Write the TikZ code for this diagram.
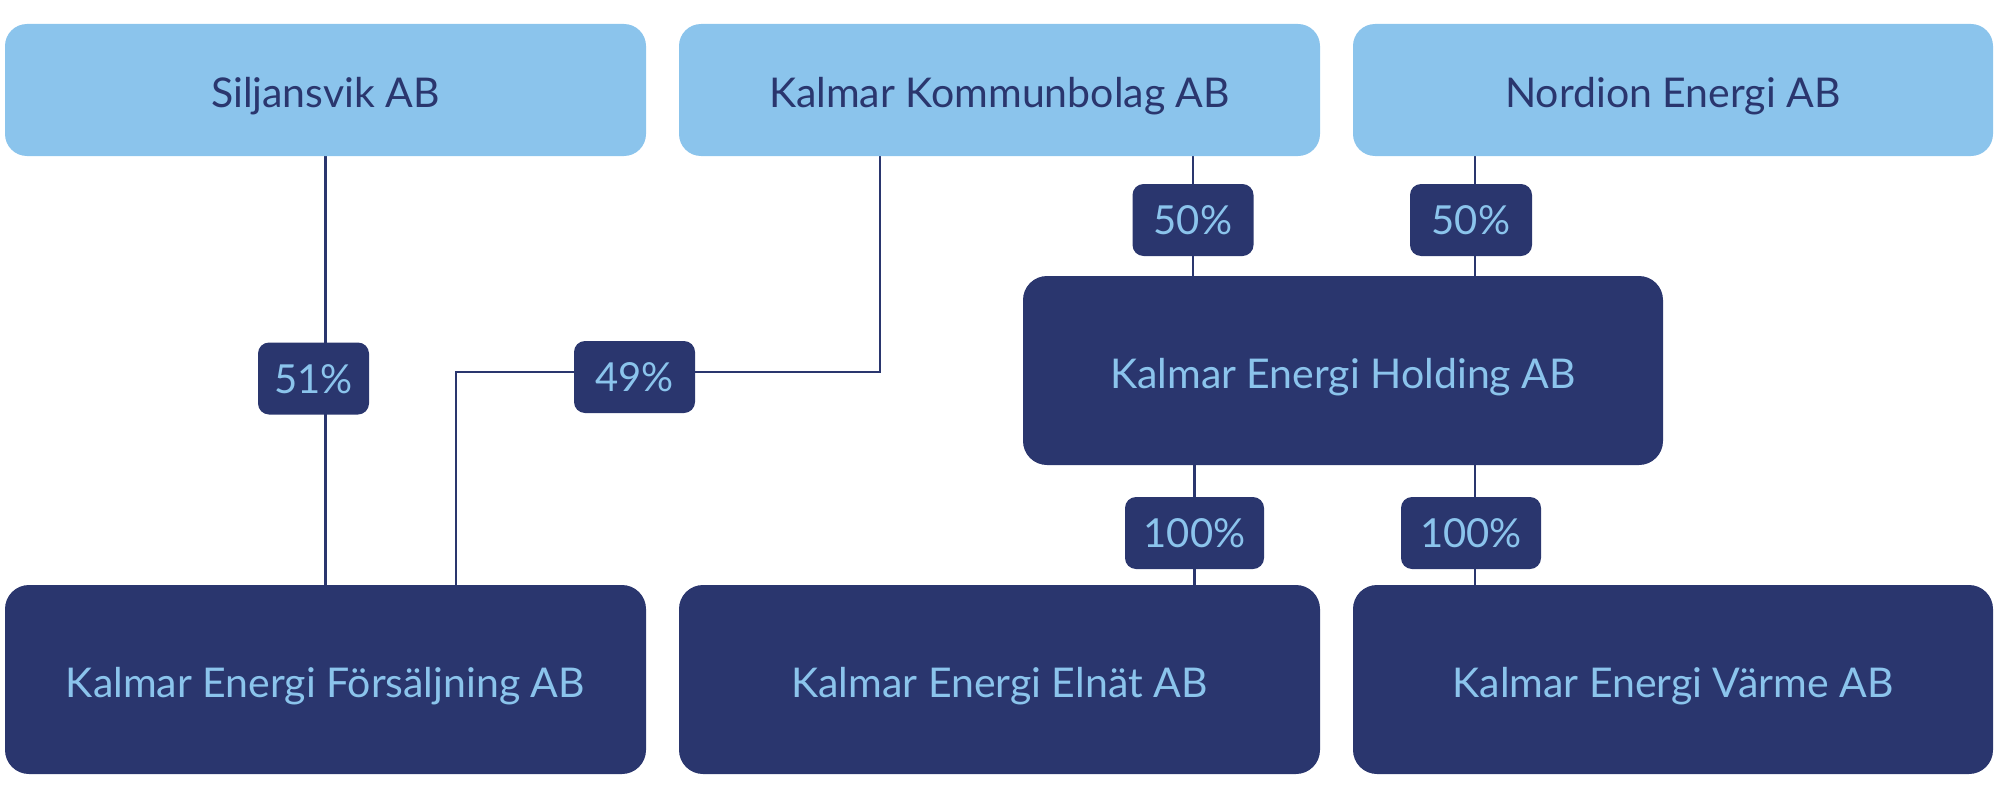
\documentclass[tikz,border=0pt]{standalone}
\usepackage{fontspec}
\setmainfont{Lato}
\usetikzlibrary{backgrounds}
\definecolor{lightb}{RGB}{139,196,236}
\definecolor{navy}{RGB}{42,54,110}
\begin{document}
\begin{tikzpicture}[x=1pt,y=-1pt,
  topbox/.style={rectangle,rounded corners=22pt,fill=lightb,text=navy,inner sep=0pt,minimum width=641pt,minimum height=132pt,text height=35pt,text depth=0pt,font=\fontsize{41}{48}\selectfont},
  darkbox/.style={rectangle,rounded corners=24pt,fill=navy,text=lightb,inner sep=0pt,minimum width=641pt,minimum height=189pt,text height=35pt,text depth=0pt,font=\fontsize{41}{48}\selectfont},
  pct/.style={rectangle,rounded corners=11pt,fill=navy,text=lightb,inner sep=0pt,minimum height=72pt,text height=29.5pt,text depth=0pt,font=\fontsize{40}{46}\selectfont},
  link/.style={draw=navy,line width=2.6pt}]
\useasboundingbox (0,0) rectangle (2000,800);
\node[topbox] (sil) at (325.5,90) {Siljansvik AB};
\node[topbox] (kom) at (999.5,90) {Kalmar Kommunbolag AB};
\node[topbox,minimum width=640pt] (nor) at (1673,90) {Nordion Energi AB};
\node[darkbox,minimum width=640pt] (hold) at (1343,370.5) {Kalmar Energi Holding AB};
\node[darkbox] (fors) at (325.5,679.5) {Kalmar Energi Försäljning AB};
\node[darkbox] (eln) at (999.5,679.5) {Kalmar Energi Elnät AB};
\node[darkbox,minimum width=640pt] (varm) at (1673,679.5) {Kalmar Energi Värme AB};
\node[pct,minimum width=111pt] (p51) at (313.5,378.5) {51\%};
\node[pct,minimum width=121pt] (p49) at (634.5,377) {49\%};
\node[pct,minimum width=121pt] (p50a) at (1193,220) {50\%};
\node[pct,minimum width=122pt] (p50b) at (1471,220) {50\%};
\node[pct,minimum width=139pt] (p100a) at (1194.5,533) {100\%};
\node[pct,minimum width=140pt] (p100b) at (1471,533) {100\%};
\coordinate (k49) at (880,372);
\coordinate (f49) at (456,372);
\coordinate (nx) at (1475,0);
\begin{pgfonlayer}{background}
\draw[link] (sil.south) -- (sil.south |- fors.north);
\draw[link] (kom.south -| k49) -- (k49) -- (f49) -- (f49 |- fors.north);
\draw[link] (p50a |- kom.south) -- (p50a |- hold.north);
\draw[link] (nx |- nor.south) -- (nx |- hold.north);
\draw[link] (p100a |- hold.south) -- (p100a |- eln.north);
\draw[link] (nx |- hold.south) -- (nx |- varm.north);
\end{pgfonlayer}
\end{tikzpicture}
\end{document}
